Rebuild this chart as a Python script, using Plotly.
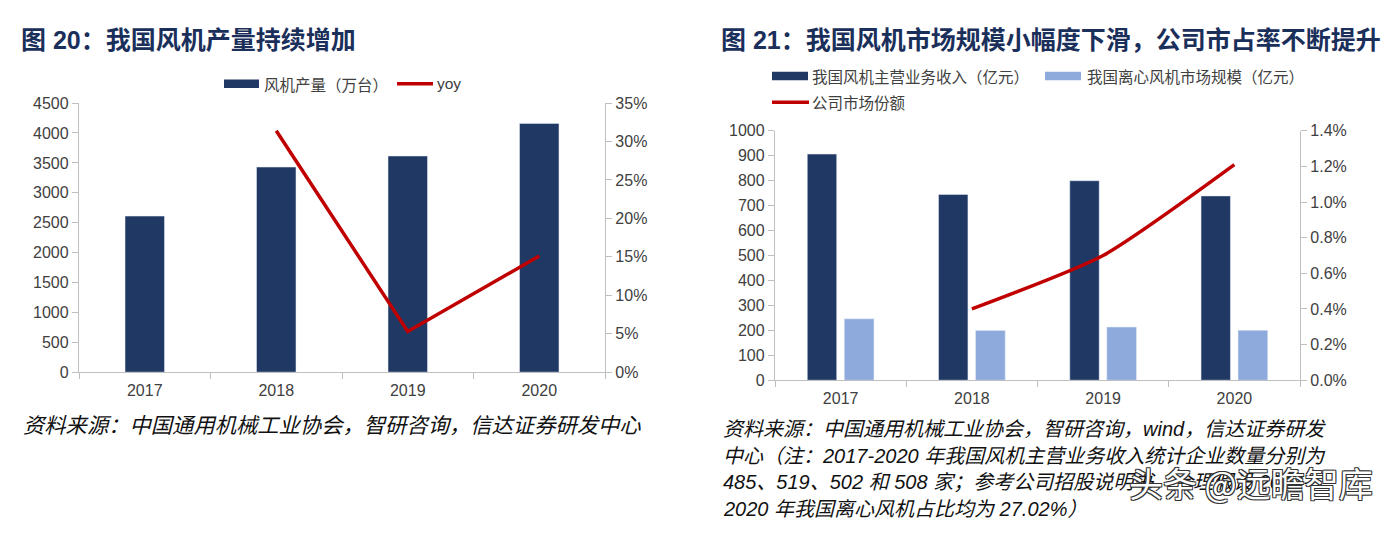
import plotly.graph_objects as go

# page body has an 8px margin: the figure is drawn from (8, 8)
OFF = 8
W, H = 1393 - OFF, 536 - OFF

# ---------------- data ----------------
years = ["2017", "2018", "2019", "2020"]
fan_output = [2610, 3430, 3615, 4160]          # 风机产量（万台）
fan_yoy_years = ["2018", "2019", "2020"]
fan_yoy = [0.314, 0.053, 0.151]                 # yoy

fan_revenue = [907, 745, 800, 739]              # 我国风机主营业务收入（亿元）
centrifugal_market = [246, 199, 213, 200]       # 我国离心风机市场规模（亿元）
share_years = ["2018", "2019", "2020"]
company_share = [0.0040, 0.0070, 0.0121]        # 公司市场份额

left_y_ticks = [0, 500, 1000, 1500, 2000, 2500, 3000, 3500, 4000, 4500]
left_y2_ticks = [0, 0.05, 0.10, 0.15, 0.20, 0.25, 0.30, 0.35]
right_y_ticks = [0, 100, 200, 300, 400, 500, 600, 700, 800, 900, 1000]
right_y2_ticks = [0, 0.002, 0.004, 0.006, 0.008, 0.010, 0.012, 0.014]

# ---------------- style ----------------
NAVY = "#203864"
LIGHT = "#8EA9DB"
RED = "#C00000"
TITLE = "#1B2F5B"
AX = "#BFBFBF"
TXT = "#404040"
LATIN = "Liberation Sans, Arial, Noto Sans CJK SC"
CJK = "Noto Sans CJK SC, Liberation Sans"


def px(x):
    return (x - OFF) / W


def py(y):
    return 1 - (y - OFF) / H


fig = go.Figure()

# left chart
fig.add_trace(go.Bar(x=years, y=fan_output, marker_color=NAVY, width=0.3,
                     xaxis="x", yaxis="y", showlegend=False))
fig.add_trace(go.Scatter(x=fan_yoy_years, y=fan_yoy, mode="lines",
                         line=dict(color=RED, width=3.5),
                         xaxis="x", yaxis="y2", showlegend=False))

# right chart
fig.add_trace(go.Bar(x=years, y=fan_revenue, marker_color=NAVY,
                     width=0.224, offset=-0.254,
                     xaxis="x2", yaxis="y3", showlegend=False))
fig.add_trace(go.Bar(x=years, y=centrifugal_market, marker_color=LIGHT,
                     width=0.226, offset=0.028,
                     xaxis="x2", yaxis="y3", showlegend=False))
fig.add_trace(go.Scatter(x=share_years, y=company_share, mode="lines",
                         line=dict(color=RED, width=3.5, shape="spline", smoothing=0.6),
                         xaxis="x2", yaxis="y4", showlegend=False))

tickfont = dict(family=LATIN, size=16, color=TXT)
common_y = dict(showgrid=False, zeroline=False, showline=True, linecolor=AX,
                linewidth=1.3, ticks="outside", ticklen=6, tickcolor=AX,
                tickwidth=1.3, tickfont=tickfont, fixedrange=True)
common_x = dict(type="category", showgrid=False, zeroline=False, showline=True,
                linecolor=AX, linewidth=1.3, ticks="outside", ticklen=6,
                tickcolor=AX, tickwidth=1.3, tickson="boundaries",
                ticklabelstandoff=3, tickfont=tickfont, fixedrange=True)

fig.update_layout(
    width=W, height=H,
    margin=dict(l=0, r=0, t=0, b=0),
    paper_bgcolor="white", plot_bgcolor="white",
    barmode="overlay",
    xaxis=dict(domain=[px(79), px(605)], anchor="y",
               categoryorder="array", categoryarray=years, **common_x),
    yaxis=dict(domain=[py(376), py(98)], anchor="x", range=[0, 4500],
               tickvals=left_y_ticks, **common_y),
    yaxis2=dict(overlaying="y", side="right", anchor="x",
                range=[0, 0.35], tickvals=left_y2_ticks, tickformat=".0%",
                **common_y),
    xaxis2=dict(domain=[px(775), px(1300)], anchor="y3",
                categoryorder="array", categoryarray=years, **common_x),
    yaxis3=dict(domain=[py(384.3), py(126.7)], anchor="x2", range=[0, 1000],
                tickvals=right_y_ticks, **common_y),
    yaxis4=dict(overlaying="y3", side="right", anchor="x2",
                range=[0, 0.014], tickvals=right_y2_ticks, tickformat=".1%",
                **common_y),
)

shapes = []
annotations = []


def add_text(x, y, text, size, color="#000", family=CJK, xanchor="left", **kw):
    annotations.append(dict(x=px(x), y=py(y), xref="paper", yref="paper",
                            text=text, showarrow=False, xanchor=xanchor,
                            yanchor="middle", borderpad=0,
                            font=dict(family=family, size=size, color=color), **kw))


def legend_rect(x0, x1, yc, color, h=9):
    shapes.append(dict(type="rect", xref="paper", yref="paper",
                       x0=px(x0), x1=px(x1), y0=py(yc + h / 2), y1=py(yc - h / 2),
                       fillcolor=color, line=dict(width=0)))


def legend_line(x0, x1, yc, color):
    shapes.append(dict(type="line", xref="paper", yref="paper",
                       x0=px(x0), x1=px(x1), y0=py(yc), y1=py(yc),
                       line=dict(color=color, width=3.5)))


# titles
add_text(20, 33, "<b>图 20：我国风机产量持续增加</b>", 25, TITLE, family=LATIN)
add_text(720, 33, "<b>图 21：我国风机市场规模小幅度下滑，公司市占率不断提升</b>", 25, TITLE,
         family=LATIN)

# left legend
legend_rect(224, 259, 78, NAVY)
add_text(263, 78, "风机产量（万台）", 15.5, TXT)
legend_line(397, 433, 78, RED)
add_text(436, 78, "yoy", 15.5, TXT, family=LATIN)

# right legend
legend_rect(772, 808, 70, NAVY)
add_text(811, 70, "我国风机主营业务收入（亿元）", 15.5, TXT)
legend_rect(1045, 1081, 70, LIGHT)
add_text(1086, 70, "我国离心风机市场规模（亿元）", 15.5, TXT)
legend_line(772, 809, 97, RED)
add_text(811, 97, "公司市场份额", 15.5, TXT)

# sources
src_font = "Liberation Sans, Noto Sans CJK SC"
add_text(22, 432, "<i>资料来源：中国通用机械工业协会，智研咨询，信达证券研发中心</i>", 21.3, "#111",
         family=src_font)
right_notes = [
    "资料来源：中国通用机械工业协会，智研咨询，wind，信达证券研发",
    "中心（注：2017-2020 年我国风机主营业务收入统计企业数量分别为",
    "485、519、502 和 508 家；参考公司招股说明书，合理假设 2017-",
    "2020 年我国离心风机占比均为 27.02%）",
]
for i, line in enumerate(right_notes):
    add_text(722, 435 + i * 27.3, "<i>" + line + "</i>", 20, "#111", family=src_font)

# watermark
annotations.append(dict(x=px(1251), y=py(490), xref="paper", yref="paper",
                        text="头条 @远瞻智库", showarrow=False, xanchor="center",
                        yanchor="middle", bgcolor="rgba(0,0,0,0)",
                        font=dict(family=CJK, size=34, color="white",
                                  shadow="-1px -1px 0 #333, 1px -1px 0 #333, -1px 1px 0 #333, 1px 1px 0 #333")))

fig.update_layout(shapes=shapes, annotations=annotations)

fig.write_html("out.html")
